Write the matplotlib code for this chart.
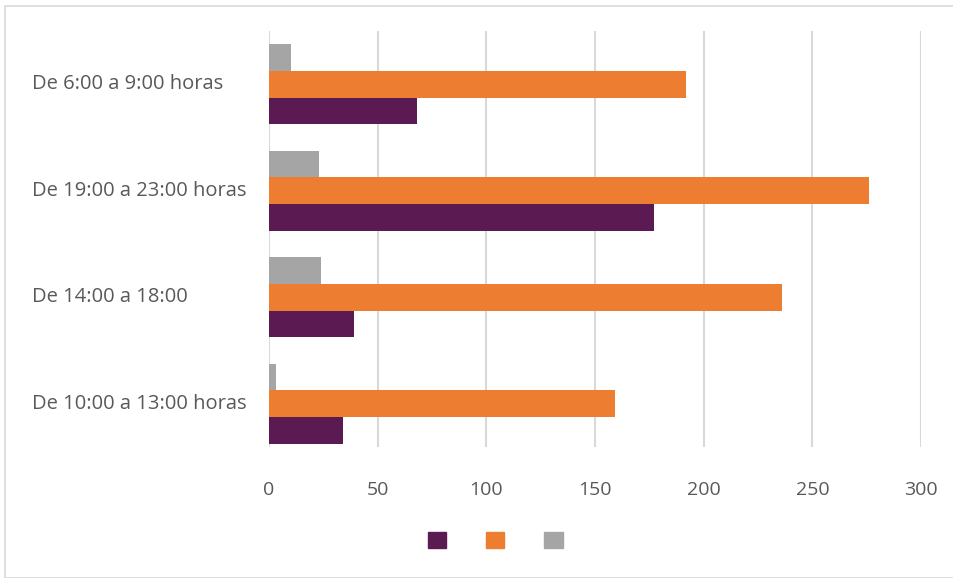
import matplotlib.pyplot as plt
from matplotlib.patches import Patch, Rectangle
import numpy as np

categories = ['De 6:00 a 9:00 horas', 'De 19:00 a 23:00 horas',
              'De 14:00 a 18:00', 'De 10:00 a 13:00 horas']
purple_vals = [68, 177, 39, 34]
orange_vals = [192, 276, 236, 159]
gray_vals = [10, 23, 24, 3]
x_ticks = [0, 50, 100, 150, 200, 250, 300]

purple = '#5b1a52'
orange = '#ed7d31'
gray = '#a5a5a5'

plt.rcParams['font.family'] = ['Open Sans', 'DejaVu Sans']

fig = plt.figure(figsize=(9.54, 5.78), dpi=100)
fig.patches.append(Rectangle((5 / 954, 0), 1, 572 / 578, transform=fig.transFigure,
                             fill=False, edgecolor='#d9d9d9', linewidth=1.2))
ax = fig.add_axes([269 / 954, 1 - 457 / 578, (921 - 269) / 954, (457 - 31) / 578])

y = np.arange(len(categories))
h = 0.25
# gridlines stop a little above the bottom of the last band, as in the original
ax.vlines(x_ticks, -0.5, len(categories) - 0.59, color='#d9d9d9', linewidth=1.5, zorder=0)
ax.barh(y + h, purple_vals, height=h, color=purple)
ax.barh(y, orange_vals, height=h, color=orange)
ax.barh(y - h, gray_vals, height=h, color=gray)

ax.set_xlim(0, 300)
ax.set_ylim(len(categories) - 0.5, -0.5)
ax.set_xticks(x_ticks)
ax.set_yticks(y)
ax.set_yticklabels(categories)
for lab in ax.get_yticklabels():
    lab.set_ha('left')
    lab.set_va('center')
ax.tick_params(axis='y', length=0, pad=(269 - 32) * 0.72, labelsize=14.5, labelcolor='#595959')
ax.tick_params(axis='x', length=0, pad=17, labelsize=14, labelcolor='#595959')
for s in ax.spines.values():
    s.set_visible(False)

handles = [Patch(color=purple), Patch(color=orange), Patch(color=gray)]
fig.legend(handles, ['', '', ''], loc='center', bbox_to_anchor=(502 / 954, 1 - 541 / 578),
           ncol=3, frameon=False, fontsize=12, handlelength=1.1, handleheight=1.1,
           handletextpad=0.8, columnspacing=1.6)

fig.savefig('out.png', dpi=100)
